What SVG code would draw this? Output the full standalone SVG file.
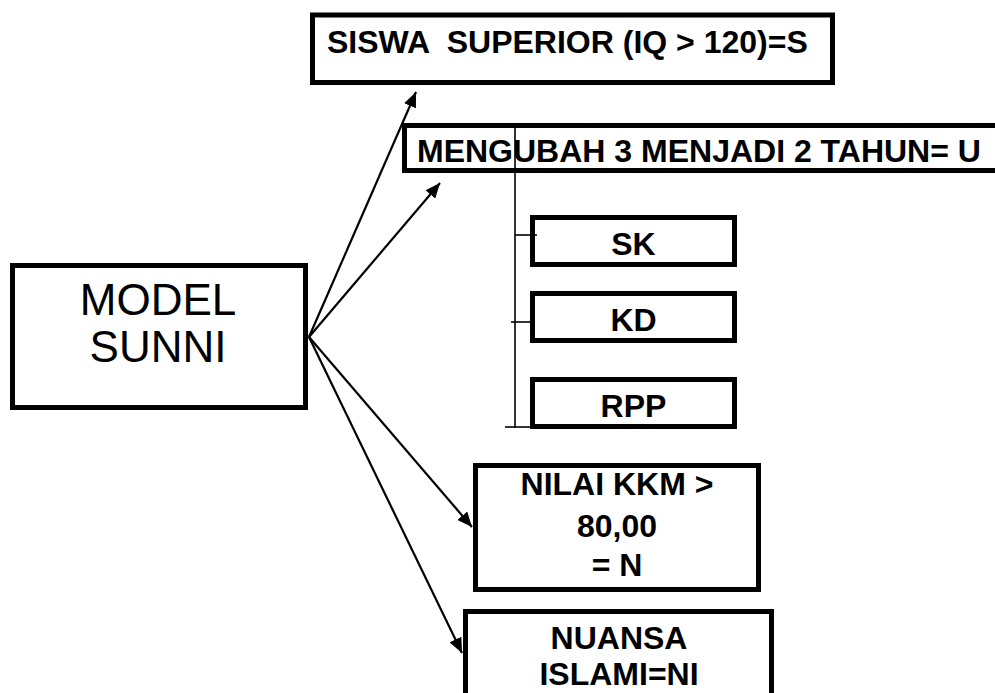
<svg xmlns="http://www.w3.org/2000/svg" width="995" height="693" viewBox="0 0 995 693">
<style>
.box{fill:#fff;stroke:#000;stroke-width:5}
.t{font-family:"Liberation Sans",Arial,sans-serif;font-weight:bold;font-size:32px;fill:#000}
.tc{text-anchor:middle}
.big{font-family:"Liberation Sans",Arial,sans-serif;font-size:44px;fill:#000;text-anchor:middle}
.arr{stroke:#000;stroke-width:2.2;fill:none;marker-end:url(#ah)}
.thin{stroke:#000;stroke-width:1.6;fill:none}
</style>
<defs>
<marker id="ah" markerUnits="userSpaceOnUse" markerWidth="16" markerHeight="13" refX="15" refY="6.5" orient="auto">
<path d="M0,0 L15,6.5 L0,13 z" fill="#000"/>
</marker>
</defs>
<rect width="995" height="693" fill="#fff"/>
<g id="siswa">
<rect class="box" x="312.5" y="15" width="520" height="67.5"/>
<text class="t" x="327" y="53" xml:space="preserve">SISWA  SUPERIOR (IQ &gt; 120)=S</text>
</g>
<g id="mengubah">
<rect class="box" x="404.5" y="125.5" width="600" height="45"/>
<text class="t" x="417" y="162">MENGUBAH 3 MENJADI 2 TAHUN= U</text>
</g>
<g id="sk">
<rect class="box" x="532.5" y="217.5" width="202" height="47"/>
<text class="t tc" x="633.5" y="255">SK</text>
</g>
<g id="kd">
<rect class="box" x="532.5" y="293.5" width="202" height="47"/>
<text class="t tc" x="633.5" y="331">KD</text>
</g>
<g id="rpp">
<rect class="box" x="532.5" y="379.5" width="202" height="47"/>
<text class="t tc" x="633.5" y="417">RPP</text>
</g>
<g id="model">
<rect class="box" x="12.5" y="265.5" width="293" height="142"/>
<text class="big" x="158" y="315">MODEL</text>
<text class="big" x="158" y="362">SUNNI</text>
</g>
<g id="nilai">
<rect class="box" x="475.5" y="465.5" width="283" height="124"/>
<text class="t tc" x="617" y="495">NILAI KKM &gt;</text>
<text class="t tc" x="617" y="537">80,00</text>
<text class="t tc" x="617" y="576">= N</text>
</g>
<g id="nuansa">
<rect class="box" x="465.5" y="611.5" width="306" height="100"/>
<text class="t tc" x="619" y="649">NUANSA</text>
<text class="t tc" x="619" y="685">ISLAMI=NI</text>
</g>
<g id="connectors">
<line class="arr" x1="309" y1="337" x2="416" y2="92"/>
<line class="arr" x1="309" y1="337" x2="440" y2="183"/>
<line class="arr" x1="309" y1="337" x2="472" y2="527"/>
<line class="arr" x1="309" y1="337" x2="462" y2="653"/>
<line class="thin" x1="515" y1="128" x2="515" y2="428"/>
<line class="thin" x1="515" y1="235" x2="537" y2="235"/>
<line class="thin" x1="511" y1="322" x2="531" y2="322"/>
<line class="thin" x1="505" y1="427" x2="532" y2="427"/>
</g>
</svg>
